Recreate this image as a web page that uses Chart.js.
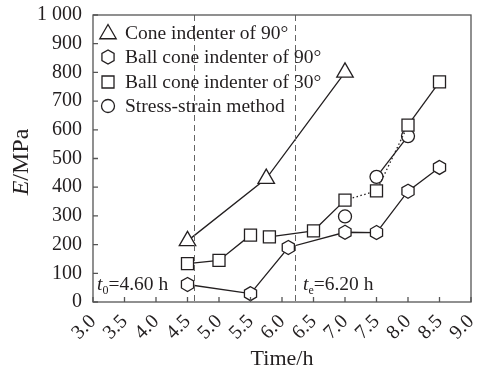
<!DOCTYPE html>
<html>
<head>
<meta charset="utf-8">
<script src="https://cdn.jsdelivr.net/npm/chart.js@4/dist/chart.umd.min.js"></script>
<style>
  html, body { margin: 0; padding: 0; background: #fff; }
</style>
</head>
<body>
<canvas id="modulusChart" width="488" height="371"></canvas>
<script>
// time (h) and modulus (MPa) for each method
const tCone90 = [4.5, 5.75, 7.0];
const eCone90 = [213, 430, 800];
const tBall90 = [4.5, 5.5, 6.1, 7.0, 7.5, 8.0, 8.5];
const eBall90 = [61, 29, 190, 243, 242, 386, 469];
const tBall30 = [4.5, 5.0, 5.5, 5.8, 6.5, 7.0, 7.5, 8.0, 8.5];
const eBall30 = [134, 145, 233, 227, 248, 355, 387, 616, 767];
const tStress = [7.0, 7.5, 8.0];
const eStress = [298, 436, 578];

const seriesNames = ["Cone indenter of 90°", "Ball cone indenter of 90°", "Ball cone indenter of 30°", "Stress-strain method"];
const markerLines = [4.6, 6.2];
const markerLabels = [["t", "0", "=4.60 h"], ["t", "e", "=6.20 h"]];

const INK = "#231f20";
const AXIS = "#555";
const SERIF = "'Liberation Serif', 'Times New Roman', serif";

const toPoints = (xs, ys) => xs.map((x, i) => ({ x: x, y: ys[i] }));

// hexagon path, pointy top
const hexPath = (ctx, x, y, r) => {
  ctx.beginPath();
  for (let k = 0; k < 6; k++) {
    const a = Math.PI / 2 + k * Math.PI / 3;
    const px = x + r * Math.cos(a), py = y - r * Math.sin(a);
    if (k === 0) ctx.moveTo(px, py); else ctx.lineTo(px, py);
  }
  ctx.closePath();
  ctx.fillStyle = "#fff";
  ctx.fill();
  ctx.strokeStyle = INK;
  ctx.lineWidth = 1.3;
  ctx.stroke();
};

const baseSet = {
  borderColor: INK,
  borderWidth: 1.3,
  backgroundColor: "#fff",
  pointBackgroundColor: "#fff",
  pointBorderColor: INK,
  pointBorderWidth: 1.3,
  showLine: true,
  tension: 0,
};

const hideOrDot = (gaps, dots) => ({
  borderColor: ctx => gaps.includes(ctx.p0DataIndex) ? "rgba(0,0,0,0)" : undefined,
  borderDash: ctx => dots.includes(ctx.p0DataIndex) ? [1.5, 2.5] : undefined,
});

// hexagon markers on the points placed by the library
const hexMarkers = {
  id: "hexMarkers",
  afterDatasetsDraw(chart) {
    const ctx = chart.ctx;
    ctx.save();
    chart.getDatasetMeta(1).data.forEach(pt => hexPath(ctx, pt.x, pt.y, 7));
    ctx.restore();
  }
};

// inward ticks, frame, dashed markers, legend and labels
const decorations = {
  id: "decorations",
  afterDraw(chart) {
    const ctx = chart.ctx;
    const a = chart.chartArea;
    const xs = chart.scales.x, ys = chart.scales.y;
    ctx.save();

    // dashed reference lines
    ctx.strokeStyle = "#666";
    ctx.lineWidth = 1;
    ctx.setLineDash([6, 4]);
    markerLines.forEach(v => {
      const px = Math.round(xs.getPixelForValue(v)) + 0.5;
      ctx.beginPath();
      ctx.moveTo(px, a.top);
      ctx.lineTo(px, a.bottom);
      ctx.stroke();
    });
    ctx.setLineDash([]);

    // frame + ticks
    ctx.strokeStyle = AXIS;
    ctx.lineWidth = 1.3;
    ctx.strokeRect(a.left, a.top, a.right - a.left, a.bottom - a.top);
    ctx.beginPath();
    xs.ticks.forEach(t => {
      const px = xs.getPixelForValue(t.value);
      ctx.moveTo(px, a.bottom);
      ctx.lineTo(px, a.bottom - 5);
    });
    ys.ticks.forEach(t => {
      const py = ys.getPixelForValue(t.value);
      ctx.moveTo(a.left, py);
      ctx.lineTo(a.left + 5, py);
    });
    ctx.stroke();

    // legend
    const lx = 108, ly = [33, 57, 82, 106];
    ly.forEach((y, i) => {
      ctx.strokeStyle = INK;
      ctx.fillStyle = "#fff";
      ctx.lineWidth = 1.3;
      ctx.beginPath();
      if (i === 0) {
        const r = 9.5;
        ctx.moveTo(lx, y - r + 1);
        ctx.lineTo(lx + r * 0.866, y + r / 2 + 1);
        ctx.lineTo(lx - r * 0.866, y + r / 2 + 1);
        ctx.closePath();
        ctx.fill(); ctx.stroke();
      } else if (i === 1) {
        hexPath(ctx, lx, y, 7);
      } else if (i === 2) {
        ctx.rect(lx - 6, y - 6, 12, 12);
        ctx.fill(); ctx.stroke();
      } else {
        ctx.arc(lx, y, 6.5, 0, Math.PI * 2);
        ctx.fill(); ctx.stroke();
      }
    });
    ctx.fillStyle = INK;
    ctx.font = "19.5px " + SERIF;
    ctx.textAlign = "left";
    ctx.textBaseline = "middle";
    seriesNames.forEach((s, i) => ctx.fillText(s, 125, ly[i] + 1));

    // t0 / te labels
    ctx.textBaseline = "alphabetic";
    const drawMarkerLabel = (parts, x, y) => {
      ctx.font = "italic 19.5px " + SERIF;
      ctx.fillText(parts[0], x, y);
      x += ctx.measureText(parts[0]).width;
      ctx.font = "12px " + SERIF;
      ctx.fillText(parts[1], x, y + 4);
      x += ctx.measureText(parts[1]).width;
      ctx.font = "19.5px " + SERIF;
      ctx.fillText(parts[2], x, y);
    };
    drawMarkerLabel(markerLabels[0], 97, 290);
    drawMarkerLabel(markerLabels[1], 303, 290);

    // axis titles
    ctx.font = "22px " + SERIF;
    ctx.textAlign = "center";
    ctx.fillText("Time/h", 282, 365);

    ctx.translate(28, 162);
    ctx.rotate(-Math.PI / 2);
    ctx.font = "italic 24px " + SERIF;
    const wE = ctx.measureText("E").width;
    ctx.font = "24px " + SERIF;
    const wRest = ctx.measureText("/MPa").width;
    const x0 = -(wE + wRest) / 2;
    ctx.textAlign = "left";
    ctx.font = "italic 24px " + SERIF;
    ctx.fillText("E", x0, 0);
    ctx.font = "24px " + SERIF;
    ctx.fillText("/MPa", x0 + wE, 0);

    ctx.restore();
  }
};

new Chart(document.getElementById("modulusChart"), {
  type: "scatter",
  data: {
    datasets: [
      Object.assign({}, baseSet, {
        label: seriesNames[0],
        data: toPoints(tCone90, eCone90),
        pointStyle: "triangle",
        pointRadius: 9.5,
      }),
      Object.assign({}, baseSet, {
        label: seriesNames[1],
        data: toPoints(tBall90, eBall90),
        pointStyle: "circle",
        pointRadius: 6,
        pointBorderWidth: 0,
        pointBorderColor: "rgba(0,0,0,0)",
      }),
      Object.assign({}, baseSet, {
        label: seriesNames[2],
        data: toPoints(tBall30, eBall30),
        pointStyle: "rect",
        pointRadius: 8.5,
        segment: hideOrDot([2], [5, 6]),
      }),
      Object.assign({}, baseSet, {
        label: seriesNames[3],
        data: toPoints(tStress, eStress),
        pointStyle: "circle",
        pointRadius: 6.5,
        segment: hideOrDot([0], []),
      }),
    ],
  },
  options: {
    responsive: false,
    animation: false,
    layout: { padding: { left: 0, top: 15, right: 17, bottom: 0 } },
    plugins: {
      legend: { display: false },
      tooltip: { enabled: false },
    },
    scales: {
      x: {
        type: "linear",
        min: 3,
        max: 9,
        grid: { display: false },
        border: { display: false },
        afterFit: s => { s.height = 69; s.paddingLeft = 0; s.paddingRight = 0; },
        ticks: {
          stepSize: 0.5,
          autoSkip: false,
          minRotation: 45,
          maxRotation: 45,
          padding: 0,
          color: INK,
          font: { family: SERIF, size: 20 },
          callback: v => v.toFixed(1),
        },
      },
      y: {
        min: 0,
        max: 1000,
        grid: { display: false },
        border: { display: false },
        afterFit: s => { s.width = 93; s.paddingTop = 0; s.paddingBottom = 0; },
        ticks: {
          stepSize: 100,
          padding: 3,
          color: INK,
          font: { family: SERIF, size: 20 },
          callback: v => v === 1000 ? "1 000" : String(v),
        },
      },
    },
  },
  plugins: [hexMarkers, decorations],
});
</script>
</body>
</html>
